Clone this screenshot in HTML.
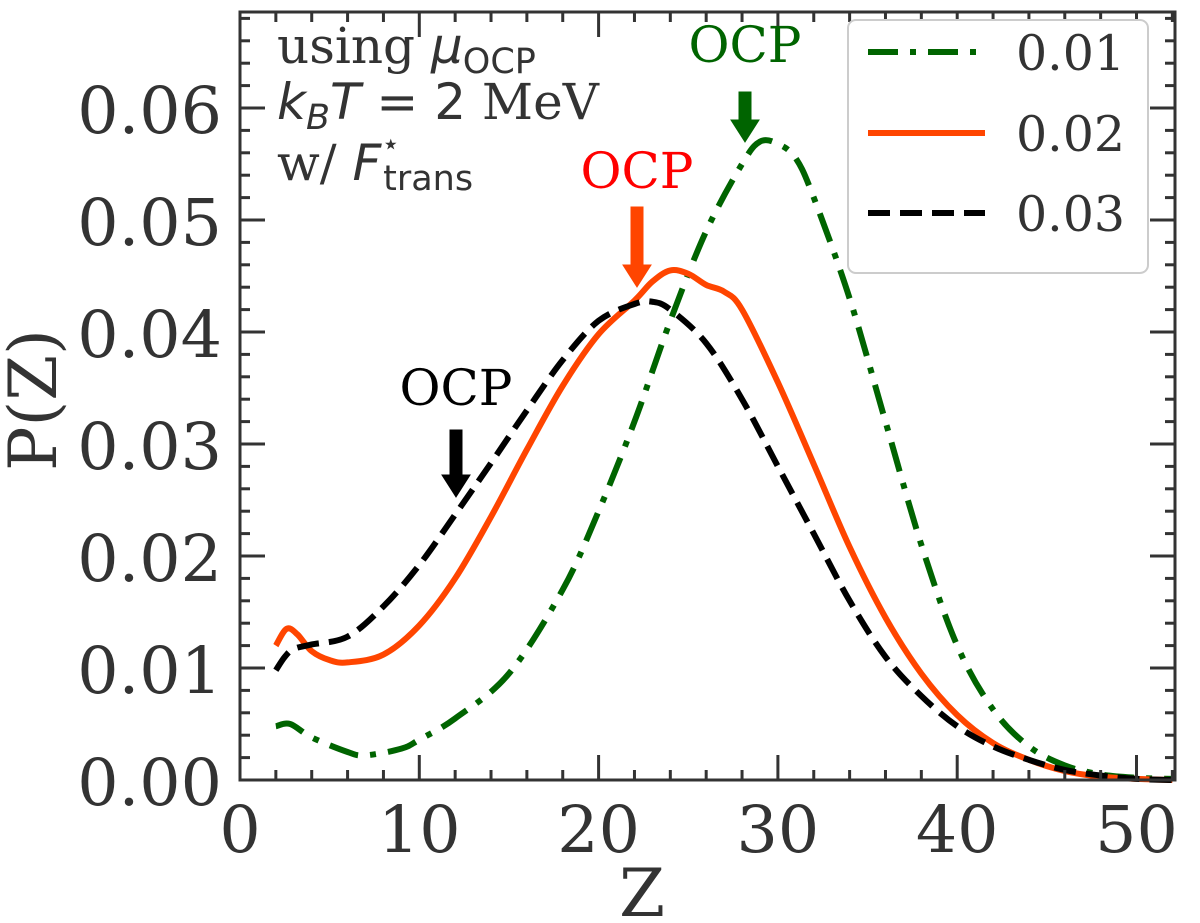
<!DOCTYPE html>
<html><head><meta charset="utf-8"><style>
body{margin:0;background:#fff}
svg{display:block}
text{font-family:"DejaVu Serif","Liberation Serif",serif;fill:#333}
</style></head><body>
<svg id="chart" width="1200" height="923"></svg>
<script>
const xTicks=[0,10,20,30,40,50];
const yTicks=[0.00,0.01,0.02,0.03,0.04,0.05,0.06];
const zGreen=[2,2.8,4,6,7,9,10,12,15,18,20,22,24,26,28,29,30,31,32,34,36,38,40,42,44,46,48,50,52];
const pGreen=[0.0048,0.005,0.0038,0.0025,0.0022,0.0028,0.0036,0.0055,0.0095,0.017,0.024,0.032,0.041,0.049,0.055,0.057,0.0568,0.0555,0.052,0.043,0.032,0.021,0.012,0.0063,0.003,0.0013,0.0005,0.0002,0.0001];
const zOrange=[2,2.6,3.2,4,5,6,8,10,12,14,16,18,20,22,23,24,25,26,27,28,30,32,34,36,38,40,42,44,46,48,50,52];
const pOrange=[0.012,0.0135,0.013,0.0115,0.0107,0.0105,0.0112,0.0138,0.018,0.0235,0.0295,0.0352,0.0398,0.0428,0.0445,0.0455,0.0452,0.0442,0.0436,0.042,0.0355,0.0282,0.0208,0.0145,0.0095,0.0058,0.0033,0.0018,0.0008,0.0003,0.0001,0];
const zBlack=[2,2.5,3,4,6,8,10,12,14,16,18,20,22,23,24,26,28,30,32,34,36,38,40,42,44,46,48,50,52];
const pBlack=[0.0098,0.011,0.0117,0.0121,0.0128,0.0155,0.0192,0.0237,0.0283,0.033,0.0375,0.041,0.0425,0.0427,0.042,0.039,0.034,0.028,0.022,0.016,0.011,0.0075,0.0048,0.003,0.0018,0.0009,0.0004,0.0001,0];

const L=240,R=1175,T=12,B=780;
const X=z=>L+z*17.93;
const Y=p=>B-p*11200;
const svg=document.getElementById('chart');
const NS='http://www.w3.org/2000/svg';
function mk(tag,at,parent){const e=document.createElementNS(NS,tag);for(const k in at)e.setAttribute(k,at[k]);(parent||svg).appendChild(e);return e;}

function path(zs,ps){
  const pts=zs.map((z,i)=>[X(z),Y(ps[i])]);
  let d='M'+pts[0][0]+','+pts[0][1];
  for(let i=0;i<pts.length-1;i++){
    const p0=pts[i-1]||pts[i],p1=pts[i],p2=pts[i+1],p3=pts[i+2]||p2;
    d+=' C'+(p1[0]+(p2[0]-p0[0])/6)+','+(p1[1]+(p2[1]-p0[1])/6)+' '+(p2[0]-(p3[0]-p1[0])/6)+','+(p2[1]-(p3[1]-p1[1])/6)+' '+p2[0]+','+p2[1];
  }
  return d;
}
const g=mk('path',{d:path(zGreen,pGreen),fill:'none',stroke:'#006400','stroke-width':6,'stroke-dasharray':'30,12,6,12'});


const o=mk('path',{d:path(zOrange,pOrange),fill:'none',stroke:'#ff4500','stroke-width':6});


const b=mk('path',{d:path(zBlack,pBlack),fill:'none',stroke:'#000','stroke-width':6,'stroke-dasharray':'22,10'});



const fr=mk('rect',{x:L,y:T,width:R-L,height:B-T,fill:'none',stroke:'#333','stroke-width':3});


for(let z=0;z<=52;z+=2){const maj=z%10===0,len=maj?25:10;
  mk('line',{x1:X(z),x2:X(z),y1:B,y2:B-len,stroke:'#333','stroke-width':3});
  mk('line',{x1:X(z),x2:X(z),y1:T,y2:T+len,stroke:'#333','stroke-width':3});}
for(let k=0;k<=34;k++){const p=k*0.002,maj=k%5===0,len=maj?25:10;
  mk('line',{x1:L,x2:L+len,y1:Y(p),y2:Y(p),stroke:'#333','stroke-width':3});
  mk('line',{x1:R,x2:R-len,y1:Y(p),y2:Y(p),stroke:'#333','stroke-width':3});}
xTicks.forEach(v=>{const t=mk('text',{x:X(v),y:852,'font-size':65,'text-anchor':'middle'});t.textContent=v;
  
  });
yTicks.forEach(v=>{const t=mk('text',{x:222,y:Y(v)+25,'font-size':65,'text-anchor':'end'});t.textContent=v.toFixed(2);
  
  });
const xt=mk('text',{x:642,y:916,'font-size':66,'text-anchor':'middle'});xt.textContent='Z';


const yt=mk('text',{x:0,y:0,'font-size':66,'text-anchor':'middle',transform:'translate(56,400) rotate(-90)'});yt.textContent='P(Z)';



function ann(x,ty,y1,y2,tcol,acol,name){
  const t=mk('text',{x:x,y:ty,'font-size':50,'text-anchor':'middle',style:'fill:'+tcol});t.textContent='OCP';
  
  
  const a=mk('path',{d:`M${x-6},${y1} h12 v${y2-y1-22} h8 l-14,22 l-14,-22 h8 z`,fill:acol,stroke:acol,'stroke-width':1});
  
  
}
ann(456,405,430,497,'#000','#000','ocp-0.03');
ann(637,188,207,287,'#ff0000','#ff4500','ocp-0.02');
ann(745,62,92,142,'#006400','#006400','ocp-0.01');

const info=mk('text',{x:277,y:63,'font-size':50});
info.innerHTML='using <tspan font-family="DejaVu Sans" font-style="italic">μ</tspan><tspan font-family="DejaVu Sans" font-size="35" dy="10">OCP</tspan>';


const info2=mk('text',{x:277,y:119,'font-size':50});
info2.innerHTML='<tspan font-family="DejaVu Sans" font-style="italic">k</tspan><tspan font-family="DejaVu Sans" font-style="italic" font-size="35" dy="10">B</tspan><tspan font-family="DejaVu Sans" font-style="italic" dy="-10">T</tspan><tspan font-family="DejaVu Sans"> = 2 </tspan>MeV';


const info3=mk('text',{x:277,y:180,'font-size':50});
info3.innerHTML='w/ <tspan font-family="DejaVu Sans" font-style="italic">F</tspan><tspan font-family="DejaVu Sans" font-size="30" dy="-26">⋆</tspan><tspan font-family="DejaVu Sans" font-size="35" dx="-17" dy="36">trans</tspan>';



const lg=mk('rect',{x:848,y:20,width:300,height:253,rx:8,fill:'#fff',stroke:'#ccc','stroke-width':2});


const leg=[['0.01','#006400','30,12,6,12',52],['0.02','#ff4500','none',133],['0.03','#000','22,10',213]];
leg.forEach(e=>{
  const l=mk('line',{x1:868,x2:985,y1:e[3],y2:e[3],stroke:e[1],'stroke-width':6,'stroke-dasharray':e[2]});
  
  
  const t=mk('text',{x:1016,y:e[3]+18,'font-size':49});t.textContent=e[0];
  
  
});
</script>
</body></html>
